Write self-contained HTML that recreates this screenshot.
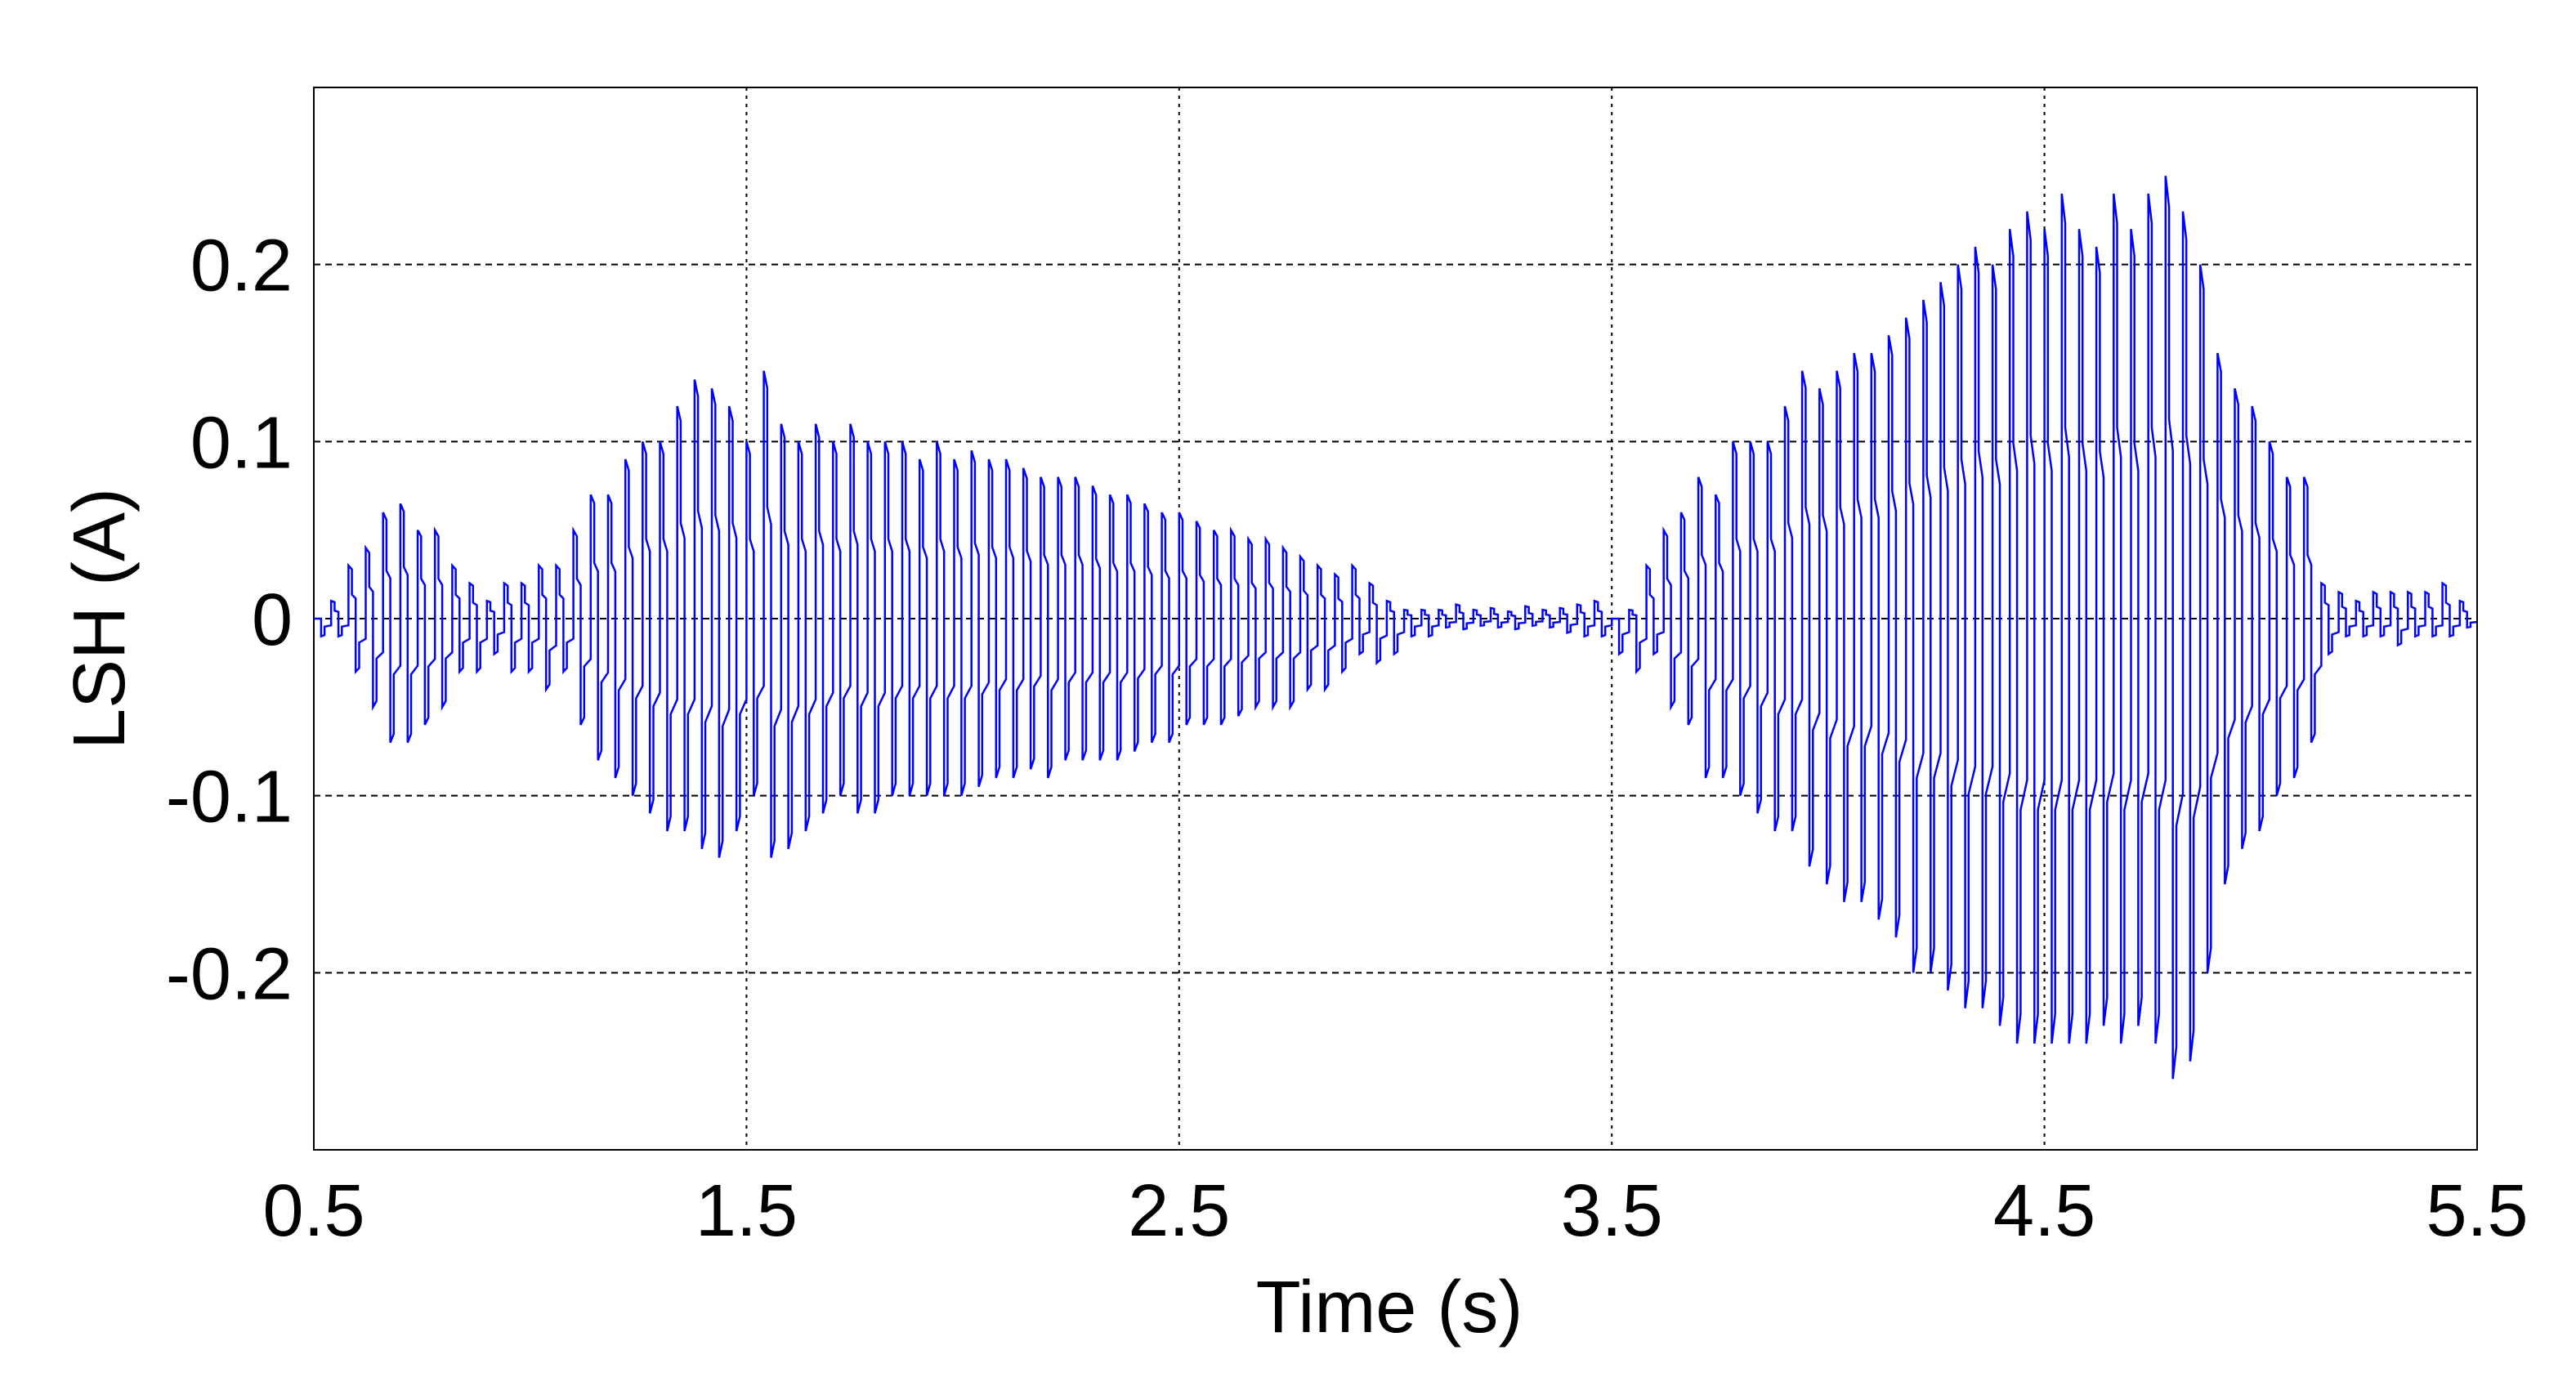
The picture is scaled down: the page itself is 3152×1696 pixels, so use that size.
<!DOCTYPE html>
<html><head><meta charset="utf-8"><style>
html,body{margin:0;padding:0;background:#fff;}
svg{display:block;font-family:"Liberation Sans",Arial,sans-serif;}
</style></head><body>
<svg width="3152" height="1696" viewBox="0 0 3152 1696" xmlns="http://www.w3.org/2000/svg">
<rect x="0" y="0" width="3152" height="1696" fill="#fff"/>
<g id="grid"></g>
<g id="series"></g>
<rect x="384" y="107" width="2647" height="1300" fill="none" stroke="#000" stroke-width="2"/>
<g id="ticks"></g>
<text x="1700" y="1630" font-size="90" text-anchor="middle">Time (s)</text>
<text x="0" y="0" font-size="90" text-anchor="middle" transform="translate(152,757) rotate(-90)">LSH (A)</text>
</svg>
<script>
const xTicks=[0.5,1.5,2.5,3.5,4.5,5.5];
const xTickLabels=["0.5","1.5","2.5","3.5","4.5","5.5"];
const yTicks=[-0.2,-0.1,0,0.1,0.2];
const yTickLabels=["-0.2","-0.1","0","0.1","0.2"];
const highs=[0.0,0.01,0.03,0.04,0.06,0.065,0.05,0.05,0.03,0.02,0.01,0.02,0.02,0.03,0.03,
0.05,0.07,0.07,0.09,0.1,0.1,0.12,0.135,0.13,0.12,0.1,0.14,0.11,0.1,0.11,0.1,
0.11,0.1,0.1,0.1,0.09,0.1,0.09,0.095,0.09,
0.09,0.085,0.08,0.08,0.08,0.075,0.07,0.07,0.065,0.06,
0.06,0.055,0.05,0.05,0.045,0.045,0.04,0.035,0.03,0.025,
0.03,0.02,0.01,0.005,0.005,
0.005,0.008,0.005,0.006,0.004,0.007,0.005,0.006,0.008,0.01,
0.0,0.005,0.03,
0.05,0.06,0.08,0.07,0.1,0.1,0.1,
0.12,0.14,0.13,0.14,0.15,0.15,0.16,0.17,
0.18,0.19,0.2,0.21,0.2,0.22,0.23,0.22,
0.24,0.22,0.21,0.24,0.22,0.24,0.25,0.23,0.2,
0.15,0.13,0.12,0.1,0.08,0.08,
0.02,0.015,0.01,0.015,0.015,0.015,0.015,0.02,0.01];
const lows=[-0.01,-0.01,-0.03,-0.05,-0.07,-0.07,-0.06,-0.05,-0.03,-0.03,-0.02,-0.03,-0.03,-0.04,-0.03,
-0.06,-0.08,-0.09,-0.1,-0.11,-0.12,-0.12,-0.13,-0.135,-0.12,-0.1,-0.135,-0.13,-0.12,-0.11,-0.1,
-0.11,-0.11,-0.1,-0.1,-0.1,-0.1,-0.1,-0.095,-0.09,
-0.09,-0.085,-0.09,-0.08,-0.08,-0.08,-0.08,-0.075,-0.07,-0.07,
-0.06,-0.06,-0.06,-0.055,-0.05,-0.05,-0.05,-0.04,-0.04,-0.03,
-0.02,-0.025,-0.02,-0.01,-0.01,
-0.005,-0.006,-0.004,-0.005,-0.006,-0.004,-0.005,-0.008,-0.01,-0.01,
-0.02,-0.03,-0.02,
-0.05,-0.06,-0.09,-0.09,-0.1,-0.11,-0.12,
-0.12,-0.14,-0.15,-0.16,-0.16,-0.17,-0.18,-0.2,
-0.2,-0.21,-0.22,-0.22,-0.23,-0.24,-0.24,-0.24,
-0.24,-0.24,-0.23,-0.24,-0.23,-0.24,-0.26,-0.25,-0.2,
-0.15,-0.13,-0.12,-0.1,-0.09,-0.07,
-0.02,-0.01,-0.01,-0.01,-0.015,-0.01,-0.01,-0.01,-0.005];
const tStart=0.5, tEnd=5.5;
const X=v=>384+(v-0.5)/5*2647;
const Y=v=>1407-(v+0.3)/0.6*1300;
const NS="http://www.w3.org/2000/svg";
const grid=document.getElementById('grid'), ticks=document.getElementById('ticks'), series=document.getElementById('series');
xTicks.forEach((t,i)=>{
  if(i>0&&i<xTicks.length-1){
    const l=document.createElementNS(NS,'line');
    
    
    l.setAttribute('x1',X(t));l.setAttribute('x2',X(t));l.setAttribute('y1',107);l.setAttribute('y2',1407);
    l.setAttribute('stroke','#000');l.setAttribute('stroke-width','2');l.setAttribute('stroke-dasharray','4 6');
    grid.appendChild(l);
  }
  const tx=document.createElementNS(NS,'text');
  
  
  tx.setAttribute('x',X(t));tx.setAttribute('y',1512);tx.setAttribute('font-size','90');tx.setAttribute('text-anchor','middle');
  tx.textContent=xTickLabels[i];ticks.appendChild(tx);
});
yTicks.forEach((v,i)=>{
  const l=document.createElementNS(NS,'line');
  
  
  l.setAttribute('x1',384);l.setAttribute('x2',3031);l.setAttribute('y1',Y(v));l.setAttribute('y2',Y(v));
  l.setAttribute('stroke','#000');l.setAttribute('stroke-width','2');l.setAttribute('stroke-dasharray','8 6');
  grid.appendChild(l);
  const tx=document.createElementNS(NS,'text');
  
  
  tx.setAttribute('x',358);tx.setAttribute('y',Y(v)+32);tx.setAttribute('font-size','90');tx.setAttribute('text-anchor','end');
  tx.textContent=yTickLabels[i];ticks.appendChild(tx);
});
const N=highs.length, P=(tEnd-tStart)/N;
let d='M'+X(tStart)+','+Y(0);
for(let i=0;i<N;i++){
  const t0=tStart+i*P, h=highs[i], lo=lows[i];
  const pts=[[t0,h],[t0+0.2*P,h*0.93],[t0+0.2*P,h*0.45],[t0+0.42*P,h*0.38],[t0+0.42*P,lo],[t0+0.62*P,lo*0.93],[t0+0.62*P,lo*0.45],[t0+P,lo*0.38]];
  pts.forEach(p=>{d+=' L'+X(p[0]).toFixed(1)+','+Y(p[1]).toFixed(1);});
}
const path=document.createElementNS(NS,'path');


path.setAttribute('d',d);path.setAttribute('fill','none');path.setAttribute('stroke','#0000ff');path.setAttribute('stroke-width','2.5');
series.appendChild(path);
</script>
</body></html>
